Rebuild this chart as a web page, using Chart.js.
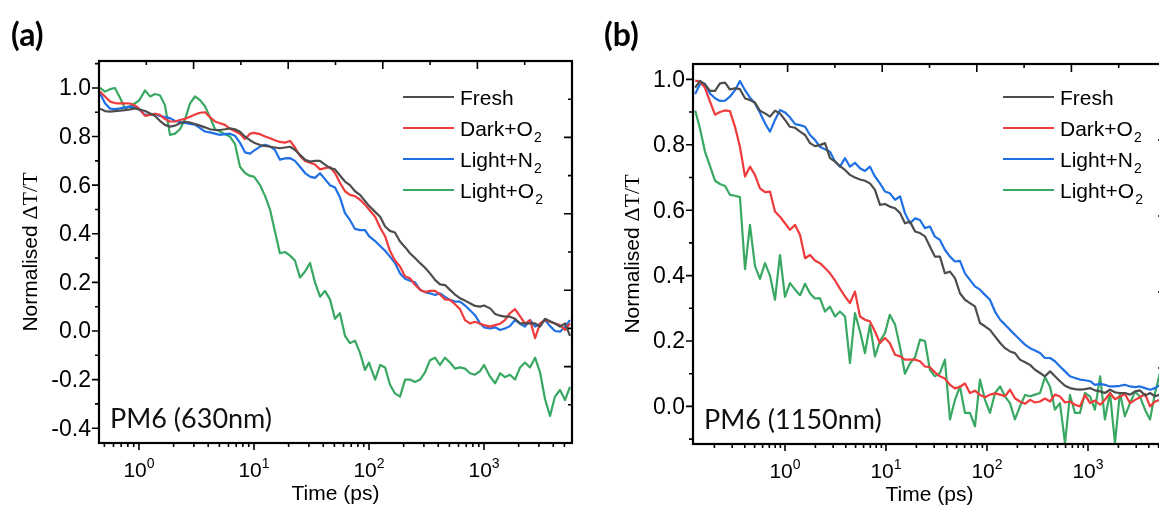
<!DOCTYPE html>
<html>
<head>
<meta charset="utf-8">
<script src="https://cdn.jsdelivr.net/npm/chart.js@4.4.1/dist/chart.umd.min.js"></script>
<style>
  html, body { margin: 0; padding: 0; background: #fff; overflow: hidden; }
  body { width: 1159px; height: 506px; position: relative; }
  canvas { position: absolute; top: 0; }
  #chartA { left: 0; }
  #chartB { left: 580px; }
</style>
</head>
<body>
<canvas id="chartA" width="580" height="506"></canvas>
<canvas id="chartB" width="600" height="506"></canvas>
<script>
// series names and colours (same for both panels)
const seriesLabels = ['Fresh', 'Dark+O₂', 'Light+N₂', 'Light+O₂'];
const seriesColors = ['#4d4d4d', '#ef3b3b', '#1f6fe5', '#38a862'];

// axis ticks
const decadeTicks = [1, 10, 100, 1000];
const decadeLabels = ['0', '1', '2', '3'];
const yTicksA = [-0.4, -0.2, 0.0, 0.2, 0.4, 0.6, 0.8, 1.0];
const yTickLabelsA = ['-0.4', '-0.2', '0.0', '0.2', '0.4', '0.6', '0.8', '1.0'];
const yTicksB = [0.0, 0.2, 0.4, 0.6, 0.8, 1.0];
const yTickLabelsB = ['0.0', '0.2', '0.4', '0.6', '0.8', '1.0'];

// ---- panel (a): PM6 (630nm) ----
const timesA = [0.458, 0.506, 0.560, 0.618, 0.684, 0.756, 0.835, 0.923, 1.00, 1.13,
  1.25, 1.38, 1.52, 1.68, 1.86, 2.06, 2.27, 2.51, 2.78, 3.07,
  3.39, 3.75, 4.14, 4.58, 5.06, 5.59, 6.18, 6.83, 7.55, 8.35,
  9.23, 10.0, 11.3, 12.5, 13.8, 15.2, 16.8, 18.6, 20.6, 22.7,
  25.1, 27.8, 30.7, 33.9, 37.5, 41.4, 45.8, 50.6, 55.9, 61.8,
  68.3, 75.5, 83.5, 92.3, 100, 113, 125, 138, 152, 168,
  186, 206, 227, 251, 278, 307, 339, 375, 414, 458,
  506, 559, 618, 683, 755, 835, 923, 1000, 1130, 1250,
  1380, 1520, 1680, 1860, 2060, 2270, 2510, 2780, 3070, 3390,
  3750, 4140, 4580, 5060, 5590];
const freshA = [0.915, 0.905, 0.903, 0.905, 0.907, 0.909, 0.912, 0.916, 0.912, 0.905,
  0.895, 0.885, 0.865, 0.848, 0.841, 0.845, 0.855, 0.861, 0.858, 0.852,
  0.845, 0.838, 0.830, 0.827, 0.827, 0.830, 0.834, 0.830, 0.820, 0.800,
  0.785, 0.775, 0.765, 0.762, 0.758, 0.755, 0.752, 0.755, 0.758, 0.745,
  0.725, 0.705, 0.697, 0.700, 0.700, 0.685, 0.670, 0.665, 0.640, 0.615,
  0.600, 0.575, 0.560, 0.535, 0.515, 0.490, 0.470, 0.430, 0.412, 0.405,
  0.368, 0.345, 0.320, 0.300, 0.279, 0.260, 0.237, 0.210, 0.192, 0.189,
  0.169, 0.150, 0.135, 0.125, 0.114, 0.103, 0.100, 0.105, 0.093, 0.070,
  0.063, 0.059, 0.059, 0.050, 0.031, 0.031, 0.031, 0.031, 0.018, 0.050,
  0.040, 0.031, 0.018, 0.031, -0.020];
const darkA = [0.985, 0.965, 0.944, 0.938, 0.937, 0.937, 0.936, 0.928, 0.915, 0.885,
  0.889, 0.894, 0.890, 0.872, 0.862, 0.862, 0.868, 0.873, 0.882, 0.891,
  0.898, 0.900, 0.880, 0.862, 0.855, 0.848, 0.832, 0.822, 0.812, 0.790,
  0.812, 0.815, 0.810, 0.800, 0.793, 0.785, 0.778, 0.775, 0.782, 0.755,
  0.720, 0.700, 0.692, 0.685, 0.665, 0.670, 0.675, 0.650, 0.610, 0.575,
  0.560, 0.555, 0.540, 0.520, 0.500, 0.470, 0.425, 0.390, 0.330, 0.290,
  0.265, 0.224, 0.217, 0.190, 0.170, 0.160, 0.165, 0.165, 0.150, 0.130,
  0.128, 0.110, 0.090, 0.045, 0.031, 0.038, 0.030, 0.024, 0.018, 0.024,
  0.030, 0.045, 0.073, 0.090, 0.060, 0.030, 0.045, -0.030, 0.031, 0.045,
  0.038, 0.031, 0.024, 0.004, 0.031];
const lightN2A = [0.978, 0.937, 0.915, 0.913, 0.916, 0.920, 0.923, 0.920, 0.912, 0.890,
  0.889, 0.894, 0.885, 0.880, 0.876, 0.864, 0.860, 0.856, 0.852, 0.849,
  0.835, 0.821, 0.817, 0.812, 0.807, 0.810, 0.812, 0.803, 0.775, 0.735,
  0.730, 0.742, 0.759, 0.766, 0.760, 0.745, 0.705, 0.710, 0.711, 0.700,
  0.676, 0.650, 0.635, 0.630, 0.649, 0.625, 0.600, 0.590, 0.550, 0.485,
  0.457, 0.420, 0.415, 0.415, 0.390, 0.370, 0.350, 0.330, 0.306, 0.280,
  0.237, 0.215, 0.207, 0.200, 0.169, 0.160, 0.155, 0.148, 0.155, 0.140,
  0.128, 0.121, 0.121, 0.105, 0.085, 0.065, 0.031, 0.015, 0.010, 0.015,
  0.004, 0.010, 0.020, 0.045, 0.030, 0.018, 0.045, 0.018, 0.030, 0.045,
  0.020, 0.000, -0.003, 0.018, 0.045];
const lightO2A = [1.000, 0.985, 0.995, 1.000, 0.960, 0.915, 0.925, 0.937, 0.948, 0.990,
  0.965, 0.975, 0.970, 0.930, 0.807, 0.812, 0.830, 0.870, 0.937, 0.965,
  0.950, 0.925, 0.880, 0.830, 0.821, 0.810, 0.800, 0.770, 0.676, 0.650,
  0.638, 0.635, 0.600, 0.555, 0.498, 0.410, 0.320, 0.325, 0.310, 0.290,
  0.220, 0.245, 0.280, 0.200, 0.141, 0.165, 0.130, 0.050, 0.073, -0.020,
  -0.050, -0.040, -0.090, -0.160, -0.130, -0.200, -0.140, -0.150, -0.220, -0.257,
  -0.270, -0.200, -0.200, -0.210, -0.200, -0.170, -0.120, -0.110, -0.140, -0.110,
  -0.130, -0.155, -0.150, -0.155, -0.174, -0.180, -0.165, -0.140, -0.188, -0.215,
  -0.174, -0.190, -0.180, -0.200, -0.150, -0.130, -0.150, -0.110, -0.170, -0.280,
  -0.350, -0.270, -0.243, -0.284, -0.230];

// ---- panel (b): PM6 (1150nm) ----
const timesB = [0.129, 0.144, 0.161, 0.181, 0.203, 0.227, 0.255, 0.285, 0.320, 0.358,
  0.402, 0.450, 0.504, 0.565, 0.634, 0.710, 0.796, 0.892, 1.00, 1.12,
  1.26, 1.41, 1.58, 1.77, 1.98, 2.22, 2.49, 2.79, 3.13, 3.50,
  3.93, 4.40, 4.93, 5.53, 6.19, 6.94, 7.78, 8.72, 9.77, 10.9,
  12.3, 13.8, 15.4, 17.3, 19.4, 21.7, 24.3, 27.2, 30.5, 34.2,
  38.3, 43.0, 48.2, 54.0, 60.5, 67.8, 76.0, 85.2, 95.5, 107,
  120, 135, 151, 169, 189, 212, 238, 267, 299, 335,
  375, 421, 471, 528, 592, 663, 743, 833, 933, 1050,
  1170, 1320, 1470, 1650, 1850, 2070, 2320, 2610, 2920, 3270,
  3670, 4110, 4610, 5160];
const freshB = [0.975, 0.995, 0.985, 0.965, 0.965, 0.988, 0.990, 0.969, 0.973, 0.970,
  0.942, 0.937, 0.929, 0.904, 0.896, 0.886, 0.904, 0.896, 0.876, 0.855,
  0.852, 0.840, 0.830, 0.805, 0.796, 0.799, 0.805, 0.759, 0.749, 0.735,
  0.723, 0.708, 0.700, 0.694, 0.690, 0.682, 0.662, 0.616, 0.619, 0.611,
  0.606, 0.591, 0.560, 0.565, 0.535, 0.530, 0.520, 0.489, 0.458, 0.458,
  0.407, 0.412, 0.392, 0.346, 0.326, 0.316, 0.306, 0.255, 0.245, 0.234,
  0.214, 0.194, 0.178, 0.168, 0.163, 0.143, 0.135, 0.127, 0.112, 0.102,
  0.092, 0.107, 0.092, 0.077, 0.063, 0.056, 0.053, 0.051, 0.053, 0.056,
  0.049, 0.046, 0.041, 0.051, 0.043, 0.041, 0.041, 0.036, 0.046, 0.049,
  0.033, 0.041, 0.031, 0.036];
const darkB = [0.996, 0.993, 0.975, 0.932, 0.892, 0.900, 0.905, 0.903, 0.855, 0.794,
  0.703, 0.733, 0.708, 0.667, 0.655, 0.657, 0.596, 0.580, 0.560, 0.540,
  0.555, 0.524, 0.453, 0.463, 0.446, 0.438, 0.423, 0.407, 0.385, 0.360,
  0.336, 0.316, 0.351, 0.275, 0.265, 0.260, 0.229, 0.194, 0.209, 0.194,
  0.158, 0.153, 0.143, 0.143, 0.143, 0.138, 0.122, 0.120, 0.104, 0.092,
  0.085, 0.066, 0.055, 0.060, 0.070, 0.041, 0.048, 0.035, 0.028, 0.036,
  0.040, 0.036, 0.031, 0.051, 0.025, 0.015, 0.008, 0.020, 0.012, 0.015,
  0.024, 0.015, 0.036, 0.030, 0.012, 0.015, 0.005, 0.000, 0.035, 0.010,
  0.018, 0.005, 0.020, 0.041, 0.022, 0.030, 0.038, 0.010, 0.020, 0.028,
  0.038, 0.000, 0.015, 0.020];
const lightN2B = [0.955, 0.985, 0.986, 0.957, 0.942, 0.934, 0.935, 0.947, 0.967, 0.995,
  0.967, 0.944, 0.927, 0.898, 0.866, 0.840, 0.876, 0.906, 0.899, 0.884,
  0.863, 0.860, 0.855, 0.830, 0.815, 0.794, 0.786, 0.779, 0.749, 0.733,
  0.759, 0.733, 0.745, 0.728, 0.720, 0.733, 0.703, 0.682, 0.657, 0.652,
  0.632, 0.642, 0.591, 0.560, 0.575, 0.570, 0.545, 0.550, 0.519, 0.509,
  0.479, 0.458, 0.443, 0.445, 0.407, 0.387, 0.367, 0.357, 0.341, 0.326,
  0.290, 0.265, 0.250, 0.234, 0.219, 0.204, 0.189, 0.178, 0.171, 0.163,
  0.148, 0.148, 0.138, 0.122, 0.107, 0.092, 0.087, 0.082, 0.080, 0.077,
  0.066, 0.069, 0.066, 0.061, 0.061, 0.063, 0.066, 0.061, 0.059, 0.061,
  0.056, 0.051, 0.056, 0.066];
const lightO2B = [0.905, 0.850, 0.780, 0.735, 0.690, 0.680, 0.674, 0.647, 0.644, 0.640,
  0.420, 0.555, 0.430, 0.390, 0.438, 0.400, 0.326, 0.463, 0.335, 0.377,
  0.357, 0.340, 0.375, 0.345, 0.330, 0.331, 0.290, 0.305, 0.275, 0.290,
  0.275, 0.132, 0.285, 0.230, 0.163, 0.250, 0.153, 0.200, 0.224, 0.280,
  0.250, 0.180, 0.100, 0.132, 0.150, 0.204, 0.200, 0.112, 0.092, 0.102,
  0.143, -0.040, 0.020, 0.061, -0.020, -0.020, -0.061, 0.082, 0.020, -0.020,
  0.041, 0.061, 0.030, 0.010, -0.040, 0.000, 0.035, 0.031, 0.036, 0.041,
  0.090, 0.060, -0.010, 0.010, -0.112, 0.035, -0.020, -0.020, 0.041, 0.030,
  -0.010, 0.092, -0.040, 0.041, -0.112, 0.041, -0.030, 0.010, 0.045, 0.030,
  -0.010, -0.040, 0.040, 0.102];

const SANS = '"Liberation Sans", Arial, sans-serif';
const LABEL_FONT = '21px ' + SANS;
const YTICK_FONT = '23px ' + SANS;
const SUP_FONT = '14px ' + SANS;

function drawSubText(ctx, text, x, y) {
  // draws "Dark+O₂" style labels with a real lowered subscript
  const parts = text.split('₂');
  ctx.font = LABEL_FONT;
  ctx.fillText(parts[0], x, y);
  if (parts.length > 1) {
    const w = ctx.measureText(parts[0]).width;
    ctx.font = SUP_FONT;
    ctx.fillText('2', x + w + 1, y + 6);
  }
}

const axisDecor = {
  id: 'axisDecor',
  afterDatasetsDraw(chart, args, o) {
    const { ctx, chartArea: a } = chart;
    const xs = chart.scales.x, ys = chart.scales.y;
    const ts = chart.scales.top, rs = chart.scales.right;
    ctx.save();
    ctx.strokeStyle = '#000';
    ctx.fillStyle = '#000';
    ctx.lineWidth = 1.6;
    ctx.beginPath();
    // bottom log ticks (outward)
    const d0 = Math.floor(Math.log10(xs.min)), d1 = Math.ceil(Math.log10(xs.max));
    for (let d = d0; d <= d1; d++) {
      for (let m = 1; m <= 9; m++) {
        const v = m * Math.pow(10, d);
        if (v < xs.min || v > xs.max) continue;
        const px = xs.getPixelForValue(v);
        ctx.moveTo(px, a.bottom);
        ctx.lineTo(px, a.bottom + (m === 1 ? 7 : 4));
      }
    }
    // left linear ticks (outward), minor every 0.1
    for (let k = Math.ceil(ys.min * 10); k <= Math.floor(ys.max * 10); k++) {
      const py = ys.getPixelForValue(k / 10);
      ctx.moveTo(a.left, py);
      ctx.lineTo(a.left - (k % 2 === 0 ? 7 : 4), py);
    }
    // top and right mirror axes (inward)
    for (let k = 0; k <= 10; k++) {
      const len = k % 2 === 0 ? 8 : 4;
      const px = ts.getPixelForValue(k);
      ctx.moveTo(px, a.top);
      ctx.lineTo(px, a.top + len);
      const py = rs.getPixelForValue(k);
      ctx.moveTo(a.right, py);
      ctx.lineTo(a.right - len, py);
    }
    ctx.stroke();
    // frame
    ctx.lineWidth = 2.2;
    ctx.strokeRect(a.left, a.top, a.right - a.left, a.bottom - a.top);

    // x tick labels 10^n
    decadeTicks.forEach((v, i) => {
      if (v < xs.min || v > xs.max) return;
      const px = xs.getPixelForValue(v);
      ctx.font = LABEL_FONT;
      const w1 = ctx.measureText('10').width;
      ctx.font = SUP_FONT;
      const w2 = ctx.measureText(decadeLabels[i]).width;
      const x0 = px - (w1 + w2) / 2;
      ctx.textAlign = 'left';
      ctx.textBaseline = 'alphabetic';
      ctx.font = LABEL_FONT;
      ctx.fillText('10', x0, a.bottom + 34);
      ctx.font = SUP_FONT;
      ctx.fillText(decadeLabels[i], x0 + w1, a.bottom + 25);
    });
    // y tick labels
    ctx.font = YTICK_FONT;
    ctx.textAlign = 'right';
    ctx.textBaseline = 'middle';
    o.yTicks.forEach((v, i) => {
      ctx.fillText(o.yTickLabels[i], a.left - 8, ys.getPixelForValue(v) + 1);
    });
    // axis titles
    ctx.font = LABEL_FONT;
    ctx.textAlign = 'center';
    ctx.textBaseline = 'alphabetic';
    ctx.fillText('Time (ps)', (a.left + a.right) / 2, a.bottom + 57);
    ctx.save();
    ctx.translate(a.left - o.yTitleGap, (a.top + a.bottom) / 2);
    ctx.rotate(-Math.PI / 2);
    ctx.textBaseline = 'middle';
    ctx.textAlign = 'left';
    ctx.font = LABEL_FONT;
    const t1 = 'Normalised ';
    const w1 = ctx.measureText(t1).width;
    ctx.font = '22px "Liberation Serif", serif';
    const t2 = 'ΔT/T';
    const w2 = ctx.measureText(t2).width;
    const sx = -(w1 + w2) / 2;
    ctx.font = LABEL_FONT;
    ctx.fillText(t1, sx, 0);
    ctx.font = '22px "Liberation Serif", serif';
    ctx.fillText(t2, sx + w1, 0);
    ctx.restore();

    // legend
    ctx.textAlign = 'left';
    ctx.textBaseline = 'alphabetic';
    chart.data.datasets.forEach((ds, i) => {
      const y = a.top + o.legendTop + i * o.legendGap;
      const x0 = a.right - o.legendRight;
      ctx.strokeStyle = ds.borderColor;
      ctx.lineWidth = 2.2;
      ctx.beginPath();
      ctx.moveTo(x0, y);
      ctx.lineTo(x0 + 51, y);
      ctx.stroke();
      ctx.fillStyle = '#000';
      drawSubText(ctx, ds.label, x0 + 57, y + 7.5);
    });

    // sample label inside the plot
    ctx.font = '27px Lato, "Open Sans", sans-serif';
    ctx.fillStyle = '#111';
    ctx.fillText(o.sample, a.left + 11, a.bottom - 15);

    // panel tag
    ctx.font = 'bold 32px Lato, "Open Sans", sans-serif';
    ctx.fillStyle = '#000';
    ctx.fillText(o.tag, o.tagX, 46);
    ctx.restore();
  }
};

function makePanel(id, times, values, range, pad, decor) {
  return new Chart(document.getElementById(id), {
    type: 'line',
    data: {
      datasets: seriesLabels.map((label, i) => ({
        label: label,
        data: times.map((t, j) => ({ x: t, y: values[i][j] })),
        borderColor: seriesColors[i],
        borderWidth: 2.2,
        borderJoinStyle: 'round',
        pointRadius: 0,
        tension: 0
      }))
    },
    options: {
      responsive: false,
      animation: false,
      events: [],
      layout: { padding: pad },
      plugins: {
        legend: { display: false },
        tooltip: { enabled: false },
        axisDecor: decor
      },
      scales: {
        x: { type: 'logarithmic', min: range.xMin, max: range.xMax, display: false },
        y: { type: 'linear', min: range.yMin, max: range.yMax, display: false },
        top: { type: 'linear', axis: 'x', position: 'top', min: 0, max: 10, display: false },
        right: { type: 'linear', axis: 'y', position: 'right', min: 0, max: 10, display: false }
      }
    },
    plugins: [axisDecor]
  });
}

makePanel('chartA', timesA, [freshA, darkA, lightN2A, lightO2A],
  { xMin: 0.449, xMax: 5820, yMin: -0.461, yMax: 1.111 },
  { left: 99, top: 61, right: 8, bottom: 63 },
  { yTicks: yTicksA, yTickLabels: yTickLabelsA, yTitleGap: 68,
    legendTop: 36, legendGap: 31, legendRight: 169,
    sample: 'PM6 (630nm)', tag: '(a)', tagX: 11 });

makePanel('chartB', timesB, [freshB, darkB, lightN2B, lightO2B],
  { xMin: 0.1228, xMax: 5920, yMin: -0.115, yMax: 1.047 },
  { left: 113, top: 64, right: 14, bottom: 62 },
  { yTicks: yTicksB, yTickLabels: yTickLabelsB, yTitleGap: 60,
    legendTop: 33, legendGap: 31, legendRight: 163,
    sample: 'PM6 (1150nm)', tag: '(b)', tagX: 24 });
</script>
</body>
</html>
